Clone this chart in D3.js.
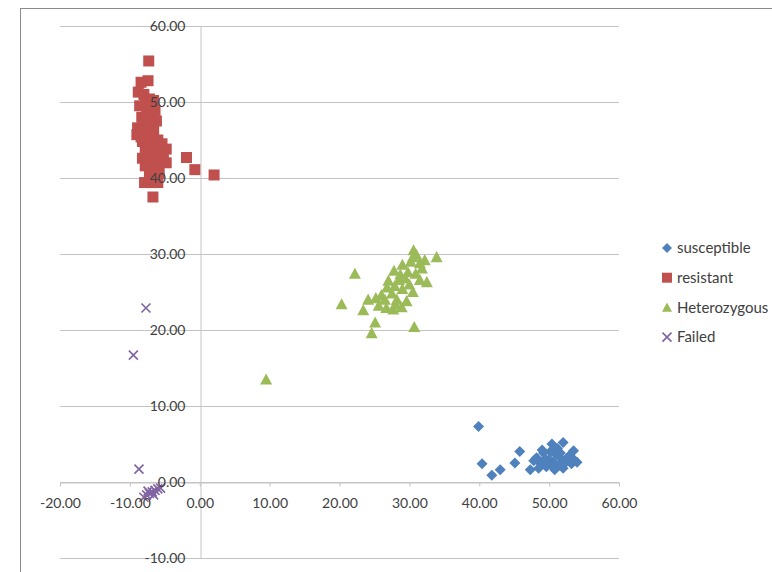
<!DOCTYPE html>
<html>
<head>
<meta charset="utf-8">
<script src="https://cdn.jsdelivr.net/npm/d3@7"></script>
<style>
  html, body { margin: 0; padding: 0; background: #ffffff; }
  svg { display: block; }
  text { font-family: Lato, "Open Sans", sans-serif; }
</style>
</head>
<body>
<script>
// Genotype clusters: allele 1 signal (x) vs allele 2 signal (y)
const seriesNames = ["susceptible", "resistant", "Heterozygous", "Failed"];
const xTicks = [-20, -10, 0, 10, 20, 30, 40, 50, 60];
const yTicks = [-10, 0, 10, 20, 30, 40, 50, 60];

const susceptible = [
  [39.9, 7.3], [40.4, 2.4], [41.8, 0.9], [43.0, 1.6], [45.1, 2.5], [45.8, 4.0],
  [47.3, 1.6], [50.4, 5.0], [52.0, 5.2], [53.5, 4.1], [54.0, 2.6],
  [48.2, 3.2], [48.8, 2.4], [49.2, 3.8], [49.6, 2.0], [50.0, 3.0], [50.6, 2.6],
  [51.0, 3.6], [51.4, 2.2], [51.8, 3.0], [52.4, 2.6], [52.8, 3.4], [53.2, 2.4],
  [49.0, 4.2], [50.2, 4.0], [51.2, 4.4], [48.5, 1.8], [52.0, 1.8], [53.5, 3.0],
  [47.8, 2.8], [50.8, 1.6], [49.4, 3.0], [50.4, 2.2], [51.6, 3.8], [52.6, 3.0]
];

const resistant = [
  [-7.3, 55.4], [-7.4, 52.8], [-8.4, 52.6], [-8.8, 51.3], [-8.0, 51.0], [-7.2, 50.4],
  [-6.6, 50.2], [-8.6, 49.5], [-7.6, 49.0], [-6.8, 48.6], [-8.3, 48.0], [-7.0, 47.8],
  [-6.2, 47.5], [-8.9, 46.6], [-7.8, 46.4], [-6.6, 46.2], [-9.0, 45.7], [-7.4, 45.2],
  [-6.0, 45.0], [-8.2, 44.8], [-5.4, 44.5], [-7.0, 44.2], [-6.2, 43.8], [-4.8, 43.8],
  [-7.8, 43.4], [-5.2, 42.8], [-6.6, 42.6], [-7.4, 42.0], [-4.8, 42.0], [-6.0, 41.6],
  [-7.0, 41.0], [-5.8, 40.6], [-6.6, 40.0], [-7.9, 39.4], [-6.7, 39.4], [-6.7, 37.5],
  [-1.9, 42.7], [-0.7, 41.1], [2.05, 40.4],
  [-7.8, 50.0], [-8.0, 47.2], [-7.2, 46.8], [-8.4, 45.4], [-7.6, 44.0], [-6.8, 43.2],
  [-7.2, 40.6], [-6.0, 39.4], [-8.2, 42.6], [-6.4, 48.9], [-7.8, 41.6]
];

const heterozygous = [
  [30.6, 30.5], [33.9, 29.6], [22.2, 27.4], [32.5, 26.3], [20.3, 23.4], [23.4, 22.6],
  [25.1, 21.0], [24.6, 19.6], [30.7, 20.4], [24.1, 24.0], [26.7, 22.9], [27.7, 22.7],
  [28.9, 23.0], [9.5, 13.5],
  [30.5, 29.6], [31.5, 28.8], [29.0, 28.6], [27.8, 27.8], [29.8, 27.6], [31.8, 28.1],
  [28.5, 26.6], [30.0, 26.0], [31.5, 26.6], [26.8, 25.6], [27.5, 24.8], [29.0, 25.4],
  [30.5, 25.0], [26.0, 24.6], [25.2, 24.2], [28.2, 24.0], [29.6, 23.8], [27.0, 26.5],
  [32.2, 29.2], [30.2, 29.0], [28.7, 27.3], [26.5, 24.0], [27.9, 25.8],
  [29.4, 26.8], [30.9, 27.4], [28.0, 23.4], [25.6, 23.2], [31.0, 29.9]
];

const failed = [
  [-7.7, 22.9], [-9.5, 16.7], [-8.7, 1.7],
  [-8.0, -2.0], [-7.6, -1.7], [-7.2, -1.5], [-6.8, -1.3], [-6.4, -1.1],
  [-6.0, -0.9], [-5.6, -0.8], [-7.4, -1.2], [-6.6, -1.7]
];

const colors = ["#4F81BD", "#C0504D", "#9BBB59", "#8064A2"];
const shapes = ["diamond", "square", "triangle", "cross"];
const seriesData = [susceptible, resistant, heterozygous, failed];

const W = 772, H = 572;
const svg = d3.select("body").append("svg").attr("width", W).attr("height", H);

// chart frame
svg.append("rect")
  .attr("x", 20.5).attr("y", 8.5).attr("width", 800).attr("height", 600)
  .attr("fill", "#ffffff").attr("stroke", "#8c8c8c").attr("stroke-width", 1);

const x = d3.scaleLinear().domain([-20, 60]).range([60, 619]);
const y = d3.scaleLinear().domain([-10, 60]).range([558, 26]);

const gridColor = "#c4c4c4";
const labelColor = "#404040";
const fmt = d => d.toFixed(2);

// horizontal gridlines
svg.append("g").selectAll("line").data(yTicks).join("line")
  .attr("x1", x(-20)).attr("x2", x(60))
  .attr("y1", d => Math.round(y(d)) + 0.5).attr("y2", d => Math.round(y(d)) + 0.5)
  .attr("stroke", gridColor).attr("stroke-width", 1);

// axis lines (labels are added after the markers so they sit on top)
const yAxis = svg.append("g")
  .attr("transform", `translate(${Math.round(x(0)) + 0.5},0)`)
  .call(d3.axisLeft(y).tickValues(yTicks).tickFormat(fmt).tickSize(0).tickPadding(15));
yAxis.select(".domain").attr("stroke", gridColor);
yAxis.selectAll("text").remove();

const xAxis = svg.append("g")
  .attr("transform", `translate(0,${Math.round(y(0)) + 0.5})`)
  .call(d3.axisBottom(x).tickValues(xTicks).tickFormat(fmt).tickSize(4).tickSizeOuter(0).tickPadding(12));
xAxis.select(".domain").attr("stroke", gridColor);
xAxis.selectAll(".tick line").attr("stroke", gridColor);
xAxis.selectAll("text").remove();

// marker path generator
function markerPath(shape, s) {
  const h = s / 2;
  if (shape === "diamond") return `M0,${-h}L${h},0L0,${h}L${-h},0Z`;
  if (shape === "square") return `M${-h},${-h}H${h}V${h}H${-h}Z`;
  if (shape === "triangle") return `M0,${-h}L${h},${h * 0.85}L${-h},${h * 0.85}Z`;
  return `M${-h},${-h}L${h},${h}M${h},${-h}L${-h},${h}`;
}
const sizes = { diamond: 11, square: 11, triangle: 12, cross: 9 };

function drawMarker(sel, i, s) {
  const shape = shapes[i];
  const p = sel.append("path").attr("d", markerPath(shape, s || sizes[shape]));
  if (shape === "cross") p.attr("fill", "none").attr("stroke", colors[i]).attr("stroke-width", 1.6);
  else p.attr("fill", colors[i]);
}

seriesData.forEach((data, i) => {
  const g = svg.append("g");
  g.selectAll("g").data(data).join("g")
    .attr("transform", d => `translate(${x(d[0])},${y(d[1])})`)
    .each(function () { drawMarker(d3.select(this), i); });
});

// axis tick labels, drawn over the markers
svg.append("g")
  .attr("transform", `translate(${Math.round(x(0)) + 0.5},0)`)
  .call(d3.axisLeft(y).tickValues(yTicks).tickFormat(fmt).tickSize(0).tickPadding(15))
  .call(g => g.select(".domain").remove())
  .selectAll("text").attr("fill", labelColor).attr("font-size", 14);

svg.append("g")
  .attr("transform", `translate(0,${Math.round(y(0)) + 0.5})`)
  .call(d3.axisBottom(x).tickValues(xTicks).tickFormat(fmt).tickSize(4).tickSizeOuter(0).tickPadding(12))
  .call(g => g.select(".domain").remove())
  .call(g => g.selectAll(".tick line").remove())
  .selectAll("text").attr("fill", labelColor).attr("font-size", 14);

// legend
const legend = svg.append("g").attr("transform", "translate(667,248)");
seriesNames.forEach((name, i) => {
  const row = legend.append("g").attr("transform", `translate(0,${i * 29.7})`);
  drawMarker(row, i, shapes[i] === "cross" ? 9 : 10);
  row.append("text").attr("x", 10).attr("dy", "0.35em")
    .attr("font-size", 15).attr("fill", labelColor).text(name);
});
</script>
</body>
</html>
